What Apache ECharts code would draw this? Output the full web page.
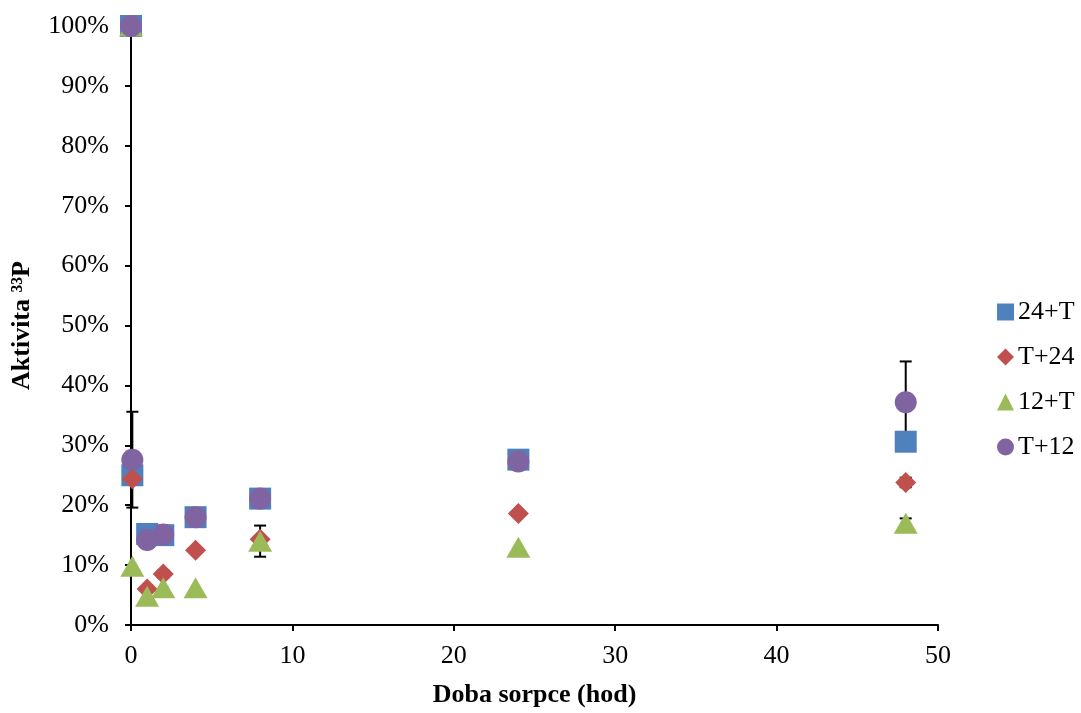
<!DOCTYPE html>
<html>
<head>
<meta charset="utf-8">
<script src="https://cdn.jsdelivr.net/npm/echarts@6/dist/echarts.min.js"></script>
<style>
  html, body { margin: 0; padding: 0; background: #fff; }
  #chart { width: 1081px; height: 713px; }
</style>
</head>
<body>
<div id="chart"></div>
<script>
// Sorption time (hours)
const times = [0, 0.083, 1, 2, 4, 8, 24, 48];

// Remaining 33P activity, percent
const s24T = [100, 25.0, 15.2, 15.0, 18.0, 21.1, 27.6, 30.6];
const sT24 = [100, 24.4, 6.0, 8.5, 12.5, 14.3, 18.6, 23.8];
const s12T = [100, 9.8, 4.8, 6.2, 6.2, 14.0, 13.0, 17.0];
const sT12 = [100, 27.6, 14.2, 15.1, 18.0, 21.1, 27.3, 37.2];

// Standard deviations (null = no bar)
const e24T = [null, null, null, null, null, null, 1.6, null];
const eT24 = [null, null, null, 0.6, null, null, null, 0.8];
const e12T = [null, null, null, null, null, 2.6, null, 0.8];
const eT12 = [null, 8.0, null, null, null, null, null, 6.8];

const names = ['24+T', 'T+24', '12+T', 'T+12'];
const colors = ['#4F81BD', '#C0504D', '#9BBB59', '#8064A2'];
const symbols = ['rect', 'diamond', 'triangle', 'circle'];
const sizes = [[22, 22], [21, 21], [24, 21], [22, 22]];
const values = [s24T, sT24, s12T, sT12];
const errors = [e24T, eT24, e12T, eT12];

const serif = '"Liberation Serif", "Times New Roman", serif';

function pairs(v) { return times.map((t, i) => [t, v[i] / 100]); }

function errData(v, e) {
  const out = [];
  times.forEach((t, i) => {
    if (e[i] != null) out.push([t, (v[i] - e[i]) / 100, (v[i] + e[i]) / 100]);
  });
  return out;
}

function renderErr(params, api) {
  const x = api.value(0);
  const lo = api.coord([x, api.value(1)]);
  const hi = api.coord([x, api.value(2)]);
  const w = 6;
  const style = { stroke: '#000', lineWidth: 2 };
  return {
    type: 'group',
    children: [
      { type: 'line', shape: { x1: hi[0], y1: hi[1], x2: lo[0], y2: lo[1] }, style },
      { type: 'line', shape: { x1: hi[0] - w, y1: hi[1], x2: hi[0] + w, y2: hi[1] }, style },
      { type: 'line', shape: { x1: lo[0] - w, y1: lo[1], x2: lo[0] + w, y2: lo[1] }, style }
    ]
  };
}

const series = [];
names.forEach((n, k) => {
  series.push({
    name: n + ' err',
    type: 'custom',
    renderItem: renderErr,
    data: errData(values[k], errors[k]),
    encode: { x: 0, y: [1, 2] },
    z: 1,
    silent: true
  });
});
names.forEach((n, k) => {
  series.push({
    name: n,
    type: 'scatter',
    data: pairs(values[k]),
    symbol: symbols[k],
    symbolSize: sizes[k],
    itemStyle: { color: colors[k], opacity: 1 },
    z: 2 + k
  });
});

const chart = echarts.init(document.getElementById('chart'));
chart.setOption({
  animation: false,
  backgroundColor: '#fff',
  grid: { left: 131, right: 143, top: 26, bottom: 86 },
  legend: {
    data: names.map((n, k) => ({ name: n, icon: symbols[k] })),
    orient: 'vertical',
    left: 992,
    top: 294,
    itemWidth: 17,
    itemHeight: 17,
    itemGap: 19,
    textStyle: { fontFamily: serif, fontSize: 26, color: '#000', padding: [0, 0, 0, -1] }
  },
  xAxis: {
    type: 'value',
    min: 0, max: 50, interval: 10,
    name: 'Doba sorpce (hod)',
    nameLocation: 'middle',
    nameGap: 57,
    nameTextStyle: { fontFamily: serif, fontSize: 26, fontWeight: 'bold', color: '#000' },
    axisLine: { show: true, onZero: false, lineStyle: { color: '#000', width: 2 } },
    axisTick: { show: true, inside: false, length: 6, lineStyle: { color: '#000', width: 2 } },
    axisLabel: { fontFamily: serif, fontSize: 26, color: '#000', margin: 18 },
    splitLine: { show: false }
  },
  yAxis: {
    type: 'value',
    min: 0, max: 1, interval: 0.1,
    name: 'Aktivita ³³P',
    nameLocation: 'middle',
    nameGap: 96,
    nameRotate: 90,
    nameTextStyle: { fontFamily: serif, fontSize: 26, fontWeight: 'bold', color: '#000' },
    axisLine: { show: true, lineStyle: { color: '#000', width: 2 } },
    axisTick: { show: true, inside: false, length: 6, lineStyle: { color: '#000', width: 2 } },
    axisLabel: {
      fontFamily: serif, fontSize: 26, color: '#000', margin: 22,
      formatter: v => Math.round(v * 100) + '%'
    },
    splitLine: { show: false }
  },
  series
});
</script>
</body>
</html>
